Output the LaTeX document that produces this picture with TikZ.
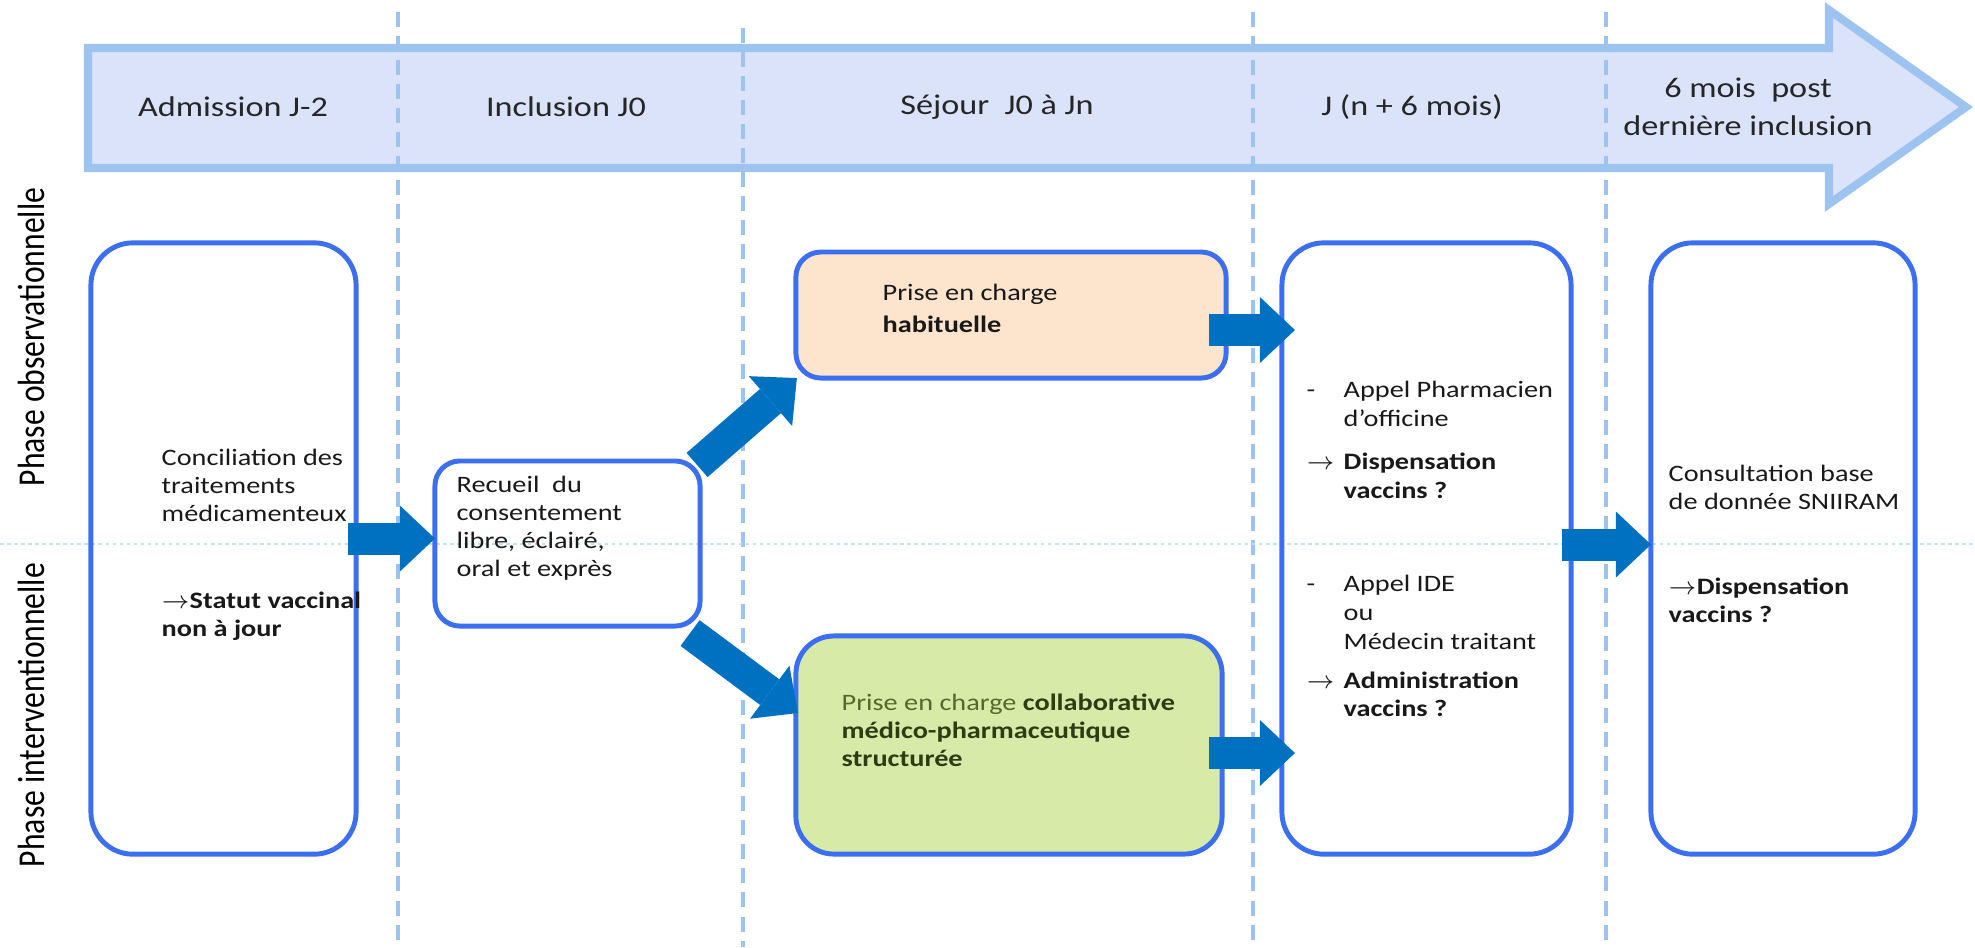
\documentclass[tikz,border=0pt]{standalone}
\usepackage{fontspec}
\setmainfont{Carlito}[FakeStretch=1.2]
\newfontfamily\phasefont{Carlito}
\usetikzlibrary{arrows.meta,calc}

\definecolor{bleuclair}{RGB}{157,195,240}
\definecolor{lavande}{RGB}{218,227,250}
\definecolor{bleucadre}{RGB}{60,110,240}
\definecolor{bleufleche}{RGB}{0,112,192}
\definecolor{peche}{RGB}{252,228,205}
\definecolor{vertclair}{RGB}{216,234,167}
\definecolor{olive}{RGB}{85,104,45}
\definecolor{vertfonce}{RGB}{45,60,20}
\definecolor{cyanpale}{RGB}{190,228,236}

\begin{document}
\begin{tikzpicture}[x=0.01cm,y=-0.01cm,
	cadre/.style={draw=bleucadre,line width=1.4pt,rounded corners=0.42cm,inner sep=0pt,outer sep=0pt},
	texte/.style={inner sep=0pt,align=left,anchor=west,text=black!90,font=\fontsize{6.7}{8}\selectfont},
	etape/.style={inner sep=0pt,align=center,text=black!85,font=\fontsize{8.1}{10.8}\selectfont},
	fleche/.style={draw=bleufleche,line width=0.32cm,-{Triangle[length=0.35cm,width=0.66cm,line width=0pt]}}]
	\useasboundingbox (0,0) rectangle (1975,947);
	
	%FLECHE DU TEMPS
	\draw[draw=bleuclair,fill=lavande,line width=2.3pt] (88,48) -- (1829,48) -- (1829,10) -- (1966,107) -- (1829,204) -- (1829,168) -- (88,168) -- cycle;
	\node[etape] (adm) at (233,107) {Admission J-2};
	\node[etape] (incl) at (566,107) {Inclusion J0};
	\node[etape] (sej) at (997,107) {Séjour\ \ J0 à Jn};
	\node[etape] (jn) at (1412,107) {J (n + 6 mois)};
	\node[etape] (post) at (1748,107) {6 mois\ \ post\\dernière inclusion};
	
	%SEPARATIONS
	\foreach \x/\y in {398/12,743/28,1253/12,1606/12}
		\draw[bleuclair,line width=1.1pt,dash pattern=on 0.15cm off 0.09cm] (\x,\y) -- (\x,947);
	\draw[cyanpale,line width=0.5pt,dash pattern=on 1pt off 1pt] (0,544) -- (1975,544);
	
	%PHASES
	\node[rotate=90,inner sep=0pt] (obs) at (31,337) {\phasefont\fontsize{9}{10}\selectfont\scalebox{1}[1.2]{Phase observationnelle}};
	\node[rotate=90,inner sep=0pt] (interv) at (31,715) {\phasefont\fontsize{9}{10}\selectfont\scalebox{1}[1.2]{Phase interventionnelle}};
	
	%BOITES
	\node[cadre,minimum width=2.65cm,minimum height=6.11cm] (conc) at (223.5,548.5) {};
	\node[cadre,rounded corners=0.25cm,minimum width=2.65cm,minimum height=1.65cm] (recu) at (567.5,543.5) {};
	\node[cadre,rounded corners=0.25cm,fill=peche,minimum width=4.3cm,minimum height=1.26cm] (hab) at (1011,315) {};
	\node[cadre,rounded corners=0.38cm,fill=vertclair,minimum width=4.26cm,minimum height=2.18cm] (collab) at (1009,745) {};
	\node[cadre,minimum width=2.89cm,minimum height=6.11cm] (appel) at (1426.5,548.5) {};
	\node[cadre,minimum width=2.64cm,minimum height=6.11cm] (sniiram) at (1783,548.5) {};
	
	%FLECHES
	\draw[fleche] ([shift={(-8,-10)}]conc.east) coordinate (a1) -- (a1 -| recu.west);
	\draw[fleche] ([shift={(-3,4)}]recu.north east) -- ([shift={(1,0)}]hab.south west);
	\draw[fleche] ([shift={(-10,7)}]recu.south east) -- ([shift={(2,-32)}]collab.west);
	\draw[fleche] ([shift={(-17,15)}]hab.east) coordinate (a4) -- ($(a4 -| appel.west)+(13,0)$);
	\draw[fleche] ([shift={(-13,8)}]collab.east) coordinate (a5) -- ($(a5 -| appel.west)+(13,0)$);
	\draw[fleche] ([shift={(-9,-4)}]appel.east) coordinate (a6) -- (a6 -| sniiram.west);
	
	%TEXTES
	\node[texte] (conctxt) at (161,545) {Conciliation des\\traitements\\médicamenteux\\[0.59cm]\textbf{$\rightarrow$Statut vaccinal}\\\textbf{non à jour}};
	\node[texte] (recutxt) at (456,528) {Recueil\ \ du\\consentement\\libre, éclairé,\\oral et exprès};
	\node[texte] (habtxt) at (882,308) {Prise en charge\\[0.04cm]\textbf{habituelle}};
	\node[texte,text=vertfonce] (collabtxt) at (841,730) {{\color{olive}Prise en charge} \textbf{collaborative}\\\textbf{médico-pharmaceutique}\\\textbf{structurée}};
	\node[texte,font=\fontsize{6.7}{8.2}\selectfont] (appeltxt) at (1306,549) {\makebox[0.37cm][l]{-}Appel Pharmacien\\\hspace*{0.37cm}d’officine\\[0.15cm]\makebox[0.37cm][l]{$\rightarrow$}\textbf{Dispensation}\\\hspace*{0.37cm}\textbf{vaccins ?}\\[0.64cm]\makebox[0.37cm][l]{-}Appel IDE\\\hspace*{0.37cm}ou\\\hspace*{0.37cm}Médecin traitant\\[0.1cm]\makebox[0.37cm][l]{$\rightarrow$}\textbf{Administration}\\\hspace*{0.37cm}\textbf{vaccins ?}};
	\node[texte] (sniitxt) at (1668,544) {Consultation base\\de donnée SNIIRAM\\[0.57cm]\textbf{$\rightarrow$Dispensation}\\\textbf{vaccins ?}};
	
\end{tikzpicture}
\end{document}
